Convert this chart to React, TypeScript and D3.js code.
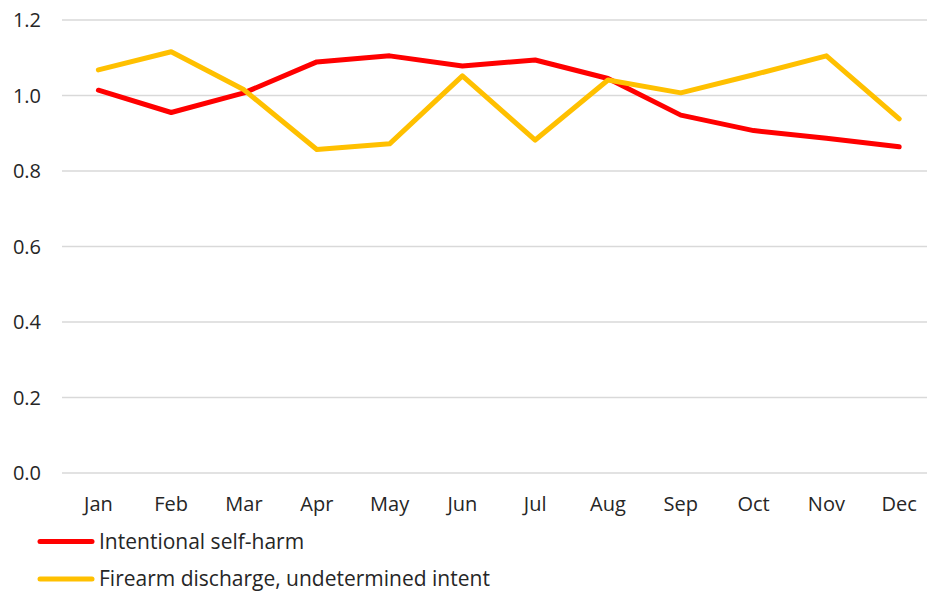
import React from "react";
import * as d3 from "d3";

const months = ["Jan", "Feb", "Mar", "Apr", "May", "Jun", "Jul", "Aug", "Sep", "Oct", "Nov", "Dec"];
const selfHarm = [1.014, 0.955, 1.007, 1.089, 1.105, 1.078, 1.094, 1.045, 0.948, 0.907, 0.887, 0.864];
const firearm = [1.068, 1.116, 1.015, 0.857, 0.872, 1.052, 0.882, 1.041, 1.007, 1.055, 1.105, 0.938];
const yTicks = [0, 0.2, 0.4, 0.6, 0.8, 1.0, 1.2];
const seriesNames = ["Intentional self-harm", "Firearm discharge, undetermined intent"];
const seriesColors = ["#FF0000", "#FFC000"];

const W = 927;
const H = 593;

export default function App() {
  const x = d3.scaleBand<string>().domain(months).range([62, 935.6]);
  const y = d3.scaleLinear().domain([0, 1.2]).range([473, 20]);
  const line = d3
    .line<number>()
    .x((_, i) => (x(months[i]) as number) + x.bandwidth() / 2)
    .y((d) => y(d));
  const series = [selfHarm, firearm];

  return (
    <svg
      width={W}
      height={H}
      style={{ position: "absolute", left: 0, top: 0, background: "#fff" }}
      fontFamily="Open Sans, sans-serif"
    >
      <rect width={W} height={H} fill="#fff" />
      {yTicks.map((t) => (
        <g key={t}>
          <line x1={62} x2={W} y1={y(t)} y2={y(t)} stroke="#d9d9d9" strokeWidth={1.5} />
          <text x={41} y={y(t)} dy="0.35em" textAnchor="end" fontSize={20} fill="#262626">
            {d3.format(".1f")(t)}
          </text>
        </g>
      ))}
      {months.map((m) => (
        <text
          key={m}
          x={(x(m) as number) + x.bandwidth() / 2}
          y={511}
          textAnchor="middle"
          fontSize={20}
          fill="#262626"
        >
          {m}
        </text>
      ))}
      {series.map((s, i) => (
        <path
          key={i}
          d={line(s) as string}
          fill="none"
          stroke={seriesColors[i]}
          strokeWidth={5}
          strokeLinejoin="round"
          strokeLinecap="round"
        />
      ))}
      {seriesNames.map((n, i) => (
        <g key={n} transform={`translate(0, ${541.5 + i * 37.5})`}>
          <line x1={40} x2={92} y1={0} y2={0} stroke={seriesColors[i]} strokeWidth={5} strokeLinecap="round" />
          <text x={99} y={0} dy="0.35em" fontSize={21} fill="#262626">
            {n}
          </text>
        </g>
      ))}
    </svg>
  );
}
